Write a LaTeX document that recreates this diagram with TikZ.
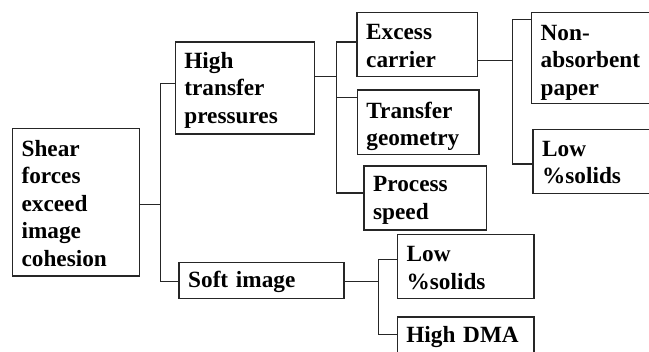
\documentclass[tikz,border=0pt]{standalone}
\usepackage{fontspec}
\setmainfont{Liberation Serif}
\begin{document}
\begin{tikzpicture}[x=1pt,y=-1pt,
  line width=1.2pt, draw=black!85,
  cell/.style n args={3}{draw=black!85, anchor=north west, align=left,
    inner xsep=9.3pt, inner ysep=0pt, text width=#1,
    text height=#2, text depth=#3,
    font=\fontsize{23.25}{27.5}\selectfont\bfseries},
  link/.style={draw=black!85, line width=1.2pt}]
\useasboundingbox (0,0) rectangle (649,352);
\clip (0,0) rectangle (649,352);

% boxes: text width = box width - 18.6, text height = first baseline offset
\node[cell={108.7pt}{27.2pt}{120pt}] (shear) at (11.7,128.3) {Shear\\forces\\exceed\\image\\cohesion};
\node[cell={120.9pt}{26pt}{66pt}] (htp) at (174.5,41.5) {High\\transfer\\pressures};
\node[cell={146.4pt}{25pt}{11pt}] (soft) at (178.3,262.3) {Soft image};
\node[cell={101.6pt}{27pt}{37pt}] (excess) at (356.3,12) {Excess\\carrier};
\node[cell={103.2pt}{28pt}{36.5pt}] (transfer) at (356.5,89.5) {Transfer\\geometry};
\node[cell={104.1pt}{25.5pt}{38.5pt}] (process) at (363.3,165.5) {Process\\speed};
\node[cell={115.6pt}{27.2pt}{63.2pt}] (nonabs) at (530.8,12.3) {Non-\\absorbent\\paper};
\node[cell={114.1pt}{26.5pt}{37.2pt}] (lowtop) at (532.3,129) {Low\\\%solids};
\node[cell={117.9pt}{26.7pt}{37.3pt}] (lowbot) at (396.8,234.3) {Low\\\%solids};
\node[cell={118.2pt}{25.2pt}{28.3pt}] (dma) at (396.5,316.5) {High DMA};

% connector ends on the boxes
\coordinate (s0) at ([yshift=-2.4pt]shear.east);
\coordinate (b1) at ([xshift=20pt]s0);
\coordinate (h0) at ([yshift=11.8pt]htp.east);
\coordinate (b2) at ([xshift=21pt]h0);
\coordinate (e0) at ([yshift=-16pt]excess.east);
\coordinate (b3) at ([xshift=34.5pt]e0);
\coordinate (f0) at ([yshift=-0.4pt]soft.east);
\coordinate (b4) at ([xshift=34.2pt]f0);

% first level
\draw[link] (s0) -- (b1);
\draw[link] ([yshift=4.8pt]htp.west) -| (b1);
\draw[link] ([yshift=-0.4pt]soft.west) -| (b1);

% high transfer pressures
\draw[link] (h0) -- (b2);
\draw[link] ([yshift=2.5pt]excess.west) -| (b2);
\draw[link] ([yshift=25pt]transfer.west) -| (b2);
\draw[link] ([yshift=5pt]process.west) -| (b2);

% excess carrier
\draw[link] (e0) -- (b3);
\draw[link] ([yshift=38.2pt]nonabs.west) -| (b3);
\draw[link] ([yshift=-2.5pt]lowtop.west) -| (b3);

% soft image
\draw[link] (f0) -- (b4);
\draw[link] ([yshift=7pt]lowbot.west) -| (b4);
\draw[link] ([yshift=9.25pt]dma.west) -| (b4);
\end{tikzpicture}
\end{document}
